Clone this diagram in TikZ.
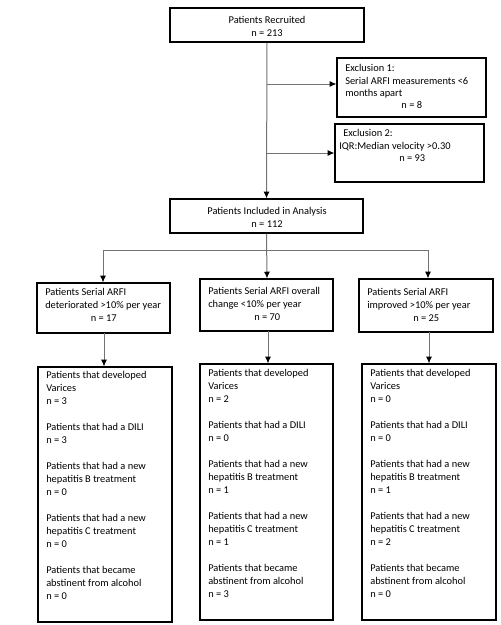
\documentclass[tikz,border=0pt]{standalone}
\usepackage{fontspec}
\setmainfont{Carlito}
\usetikzlibrary{arrows.meta,calc,fit}
\begin{document}
\begin{tikzpicture}[x=0.75pt,y=-0.75pt,
 box/.style={draw=black,line width=0.9pt,inner sep=0pt},
 gline/.style={draw=black!55, line width=0.75pt},
 conn/.style={gline, -{Latex[length=5pt,width=4.5pt,color=black]}},
 txt/.style={font=\fontsize{7.8}{9.75}\selectfont, inner sep=0pt, align=left, anchor=north west},
 etxt/.style={txt, font=\fontsize{7.8}{9.25}\selectfont},
 ctxt/.style={font=\fontsize{7.8}{9.75}\selectfont, inner sep=0pt, align=center}]
\useasboundingbox (0,0) rectangle (500,625);
% boxes
\node[box, fit={(170,8) (364,42)}] (top) {};
\node[box, fit={(337,58) (486,117)}] (ex1) {};
\node[box, fit={(335,124) (484,182)}] (ex2) {};
\node[box, fit={(170,199) (363,233)}] (ana) {};
\node[box, fit={(37,283) (170,333)}] (l2) {};
\node[box, fit={(200,279) (333,331)}] (m2) {};
\node[box, fit={(359,279) (493,332)}] (r2) {};
\node[box, fit={(38,367) (172,622)}] (l3) {};
\node[box, fit={(200,364) (333,620)}] (m3) {};
\node[box, fit={(362,364) (496,620)}] (r3) {};
% texts
\node[ctxt] (ttop) at (267,26.5) {Patients Recruited\\n = 213};
\node[etxt] (tex1) at (345,64.5) {Exclusion 1:\\Serial ARFI measurements <6\\months apart\\\makebox[99.75pt][c]{n = 8}};
\node[etxt] (tex2) at (343,129.5) {Exclusion 2:\\\hspace*{-3pt}IQR:Median velocity >0.30\\\makebox[103.5pt][c]{n = 93}};
\node[ctxt] (tana) at (267,217) {Patients Included in Analysis\\n = 112};
\node[txt] (tl2) at (45,288.5) {Patients Serial ARFI\\deteriorated >10\% per year\\\makebox[87.75pt][c]{n = 17}};
\node[txt] (tm2) at (208,287.5) {Patients Serial ARFI overall\\change <10\% per year\\\makebox[88.5pt][c]{n = 70}};
\node[txt] (tr2) at (367,288.5) {Patients Serial ARFI\\improved >10\% per year\\\makebox[88.5pt][c]{n = 25}};
\node[txt] (tl3) at (46,371.5) {Patients that developed\\Varices\\n = 3\\[9.75pt]Patients that had a DILI\\n = 3\\[9.75pt]Patients that had a new\\hepatitis B treatment\\n = 0\\[9.75pt]Patients that had a new\\hepatitis C treatment\\n = 0\\[9.75pt]Patients that became\\abstinent from alcohol\\n = 0};
\node[txt] (tm3) at (208,369.5) {Patients that developed\\Varices\\n = 2\\[9.75pt]Patients that had a DILI\\n = 0\\[9.75pt]Patients that had a new\\hepatitis B treatment\\n = 1\\[9.75pt]Patients that had a new\\hepatitis C treatment\\n = 1\\[9.75pt]Patients that became\\abstinent from alcohol\\n = 3};
\node[txt] (tr3) at (370,369.5) {Patients that developed\\Varices\\n = 0\\[9.75pt]Patients that had a DILI\\n = 0\\[9.75pt]Patients that had a new\\hepatitis B treatment\\n = 1\\[9.75pt]Patients that had a new\\hepatitis C treatment\\n = 2\\[9.75pt]Patients that became\\abstinent from alcohol\\n = 0};
% connectors
\coordinate (j1) at (267,84);
\coordinate (j2) at (267,153);
\coordinate (sl) at (103,250);
\coordinate (sr) at (428,250);
\coordinate (sm) at (267,250);
\draw[conn] (top.south) -- (ana.north);
\draw[conn] (j1) -- (j1 -| ex1.west);
\draw[conn] (j2) -- (j2 -| ex2.west);
\draw[gline] (sl) -- (sr);
\draw[conn] (ana.south) -- (sm |- m2.north);
\draw[conn] (sl) -- (sl |- l2.north);
\draw[conn] (sr) -- (sr |- r2.north);
\coordinate (d1) at (104,333);
\coordinate (d2) at (268,331);
\coordinate (d3) at (429,332);
\draw[conn] (d1) -- (d1 |- l3.north);
\draw[conn] (d2) -- (d2 |- m3.north);
\draw[conn] (d3) -- (d3 |- r3.north);
\end{tikzpicture}
\end{document}
